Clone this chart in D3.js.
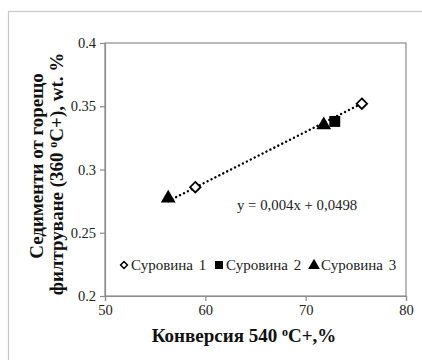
<!DOCTYPE html>
<html>
<head>
<meta charset="utf-8">
<script src="https://cdn.jsdelivr.net/npm/d3@7"></script>
<style>
  html, body { margin: 0; padding: 0; background: #fff; }
  svg { display: block; }
</style>
</head>
<body>
<svg id="chart" width="422" height="360"></svg>
<script>
// Series: conversion (%) vs. hot-filtration sediment (wt. %)
const seriesNames = ["Суровина 1", "Суровина 2", "Суровина 3"];
const seriesSymbols = ["diamond", "square", "triangle"];
const conversion1 = [59.0, 75.6];
const sediment1 = [0.286, 0.352];
const conversion2 = [72.9];
const sediment2 = [0.338];
const conversion3 = [56.3, 71.8];
const sediment3 = [0.278, 0.336];
const xTicks = [50, 60, 70, 80];
const yTicks = [0.2, 0.25, 0.3, 0.35, 0.4];
const trendSlope = 0.004;
const trendIntercept = 0.0498;
const equationText = "y = 0,004x + 0,0498";

const svg = d3.select("#chart");
const W = 422, H = 360;
const margin = { left: 105, top: 43, right: 16, bottom: 64 };
const x = d3.scaleLinear().domain([50, 80]).range([margin.left, W - margin.right]);
const y = d3.scaleLinear().domain([0.2, 0.4]).range([H - margin.bottom, margin.top]);

const serif = "'Liberation Serif', 'Times New Roman', serif";
const axisGray = "#8c8c8c";
const labelSize = 14.5;

// outer chart frame
svg.append("rect")
  .attr("x", 8.5).attr("y", 11.5).attr("width", W + 10).attr("height", H + 10)
  .attr("fill", "none").attr("stroke", "#c8c8c8").attr("stroke-width", 1.2);

// plot area frame
svg.append("rect")
  .attr("x", x(50)).attr("y", y(0.4))
  .attr("width", x(80) - x(50)).attr("height", y(0.2) - y(0.4))
  .attr("fill", "none").attr("stroke", axisGray).attr("stroke-width", 1.2);

// axes
const fmtY = d => String(d);
const yAxis = svg.append("g")
  .attr("transform", `translate(${x(50)},0)`)
  .call(d3.axisLeft(y).tickValues(yTicks).tickFormat(fmtY).tickSize(5).tickPadding(4));
const xAxis = svg.append("g")
  .attr("transform", `translate(0,${y(0.2)})`)
  .call(d3.axisBottom(x).tickValues(xTicks).tickSize(5).tickPadding(4));
[xAxis, yAxis].forEach(g => {
  g.select(".domain").attr("stroke", axisGray).attr("stroke-width", 1.2);
  g.selectAll(".tick line").attr("stroke", axisGray).attr("stroke-width", 1.2);
  g.selectAll(".tick text")
    .attr("font-family", serif).attr("font-size", labelSize).attr("fill", "#222");
});

// trend line across the data range
const allX = conversion1.concat(conversion2, conversion3);
const xMin = d3.min(allX), xMax = d3.max(allX);
svg.append("line")
  .attr("x1", x(xMin)).attr("y1", y(trendSlope * xMin + trendIntercept))
  .attr("x2", x(xMax)).attr("y2", y(trendSlope * xMax + trendIntercept))
  .attr("stroke", "#000").attr("stroke-width", 2.4)
  .attr("stroke-dasharray", "0.1 4.3").attr("stroke-linecap", "round");

// markers
function symbolPath(kind, size) {
  const t = kind === "diamond" ? d3.symbolDiamond2 : kind === "square" ? d3.symbolSquare : d3.symbolTriangle;
  return d3.symbol().type(t).size(size)();
}
function drawMarker(g, kind, cx, cy) {
  if (kind === "diamond") {
    g.append("path").attr("d", symbolPath("diamond", 70))
      .attr("transform", `translate(${cx},${cy})`)
      .attr("fill", "#fff").attr("stroke", "#000").attr("stroke-width", 1.8);
  } else if (kind === "square") {
    g.append("path").attr("d", symbolPath("square", 120))
      .attr("transform", `translate(${cx},${cy})`).attr("fill", "#000");
  } else {
    g.append("path").attr("d", symbolPath("triangle", 95))
      .attr("transform", `translate(${cx},${cy + 1})`).attr("fill", "#000");
  }
}
const marks = svg.append("g");
const seriesX = [conversion1, conversion2, conversion3];
const seriesY = [sediment1, sediment2, sediment3];
[2, 1, 0].forEach(i => {
  seriesX[i].forEach((cv, j) => drawMarker(marks, seriesSymbols[i], x(cv), y(seriesY[i][j])));
});

// trend equation
svg.append("text")
  .attr("x", 237).attr("y", 210)
  .attr("font-family", serif).attr("font-size", 14.8).attr("fill", "#222")
  .text(equationText);

// legend
const legend = svg.append("g").attr("transform", "translate(0,265)");
const legendX = [124, 219, 314];
seriesNames.forEach((name, i) => {
  const lg = legend.append("g").attr("transform", `translate(${legendX[i]},0)`);
  if (seriesSymbols[i] === "diamond") {
    lg.append("path").attr("d", symbolPath("diamond", 30))
      .attr("fill", "#fff").attr("stroke", "#000").attr("stroke-width", 1.5);
  } else if (seriesSymbols[i] === "square") {
    lg.append("path").attr("d", symbolPath("square", 64)).attr("fill", "#000");
  } else {
    lg.append("path").attr("d", symbolPath("triangle", 60)).attr("transform", "translate(0,0.5)").attr("fill", "#000");
  }
  lg.append("text").attr("x", 7).attr("y", 5)
    .attr("font-family", serif).attr("font-size", 15).attr("word-spacing", 2).attr("fill", "#222")
    .text(name);
});

// axis titles
const xTitle = svg.append("text")
  .attr("x", 244).attr("y", 342).attr("text-anchor", "middle")
  .attr("font-family", serif).attr("font-size", 19).attr("font-weight", "bold").attr("fill", "#111");
xTitle.append("tspan").text("Конверсия 540 ");
xTitle.append("tspan").attr("font-size", 12).attr("dy", -6).text("o");
xTitle.append("tspan").attr("dy", 6).text("C+,%");

const yTitle = svg.append("g")
  .attr("transform", `translate(0,170) rotate(-90)`)
  .attr("font-family", serif).attr("font-size", 19).attr("font-weight", "bold").attr("fill", "#111");
yTitle.append("text").attr("x", 4).attr("y", 43).attr("text-anchor", "middle")
  .text("Седименти от горещо");
const l2 = yTitle.append("text").attr("x", -4).attr("y", 63).attr("text-anchor", "middle");
l2.append("tspan").text("филтруване (360 ");
l2.append("tspan").attr("font-size", 12).attr("dy", -6).text("o");
l2.append("tspan").attr("dy", 6).text("C+), wt. %");
</script>
</body>
</html>
